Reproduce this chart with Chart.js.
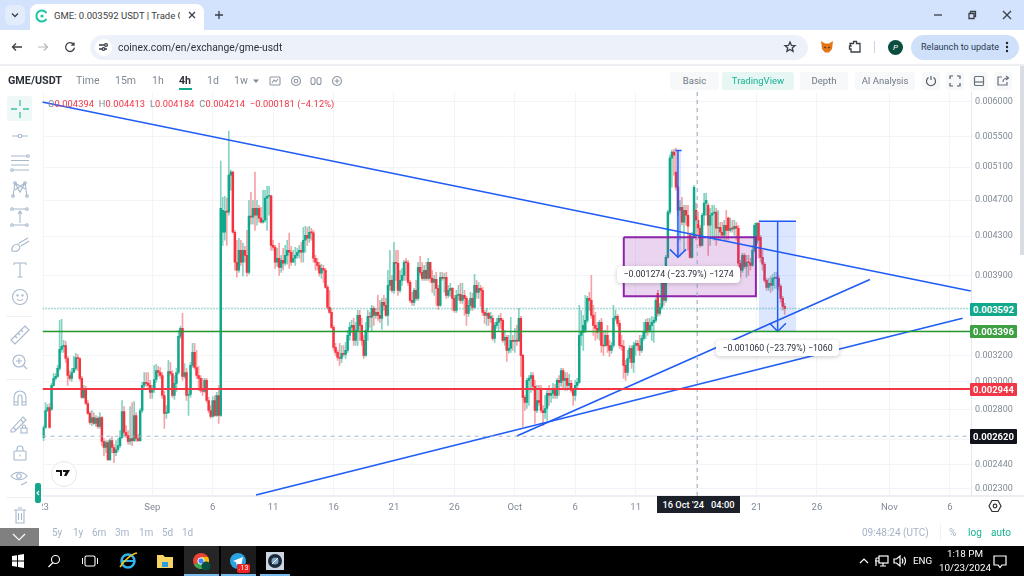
<!DOCTYPE html>
<html><head><meta charset="utf-8"><title>GME/USDT</title>
<script src="https://cdn.jsdelivr.net/npm/chart.js@4"></script>
<style>
html,body{margin:0;padding:0;background:#fff;width:1024px;height:576px;overflow:hidden;font-family:Roboto,sans-serif}
canvas{position:absolute;left:0;top:0}
.a{position:absolute;white-space:nowrap}
.h{top:73px;height:16px;line-height:16px;font-size:10.5px;color:#7f8994}
.btn{top:72px;height:18px;line-height:18px;font-size:9.5px;text-align:center;background:#f7f8fa;color:#6f7883;border-radius:3px}
.tag{left:970px;width:47px;text-align:center;color:#fff;font-size:9.5px;font-weight:700;border-radius:1px}
.lbl{background:#fff;border-radius:4px;box-shadow:0 1px 4px rgba(30,40,60,.25);text-align:center;font-size:8.75px;color:#2a2e39}
.rng{top:526px;font-size:10px;color:#a4b4c8;line-height:14px}
svg{position:absolute;overflow:visible}
.s{fill:none;stroke:#a7b8cd;stroke-width:1.1}
.w{fill:none;stroke:#fff;stroke-width:1.2}
.k{fill:none;stroke:#3a3f47;stroke-width:1.3}
</style></head><body>
<canvas id="c" width="1024" height="576"></canvas>

<!-- browser chrome -->
<div class="a" style="left:0;top:0;width:1024px;height:30px;background:#d3e3fd"></div>
<div class="a" style="left:0;top:30px;width:1024px;height:34px;background:#fff;border-radius:8px 8px 0 0"></div>
<div class="a" style="left:0;top:64px;width:1024px;height:2px;background:#eceef2"></div>
<div class="a" style="left:5px;top:5px;width:20px;height:20px;background:#e3ecfb;border-radius:6px"></div>
<svg style="left:15px;top:15px"><path d="M-3 -1.5L0 1.5L3 -1.5" class="k"/></svg>
<div class="a" style="left:30px;top:4px;width:174px;height:28px;background:#fff;border-radius:8px 8px 0 0"></div>
<svg style="left:42px;top:16px"><path d="M4.5 -3A5.5 5.5 0 1 0 4.5 3" fill="none" stroke="#18c5a5" stroke-width="2"/><circle r="1.6" fill="#18c5a5"/></svg>
<div class="a" style="left:54px;top:8px;width:126px;overflow:hidden;height:16px;line-height:16px;font-size:9.5px;color:#3c4043">GME: 0.003592 USDT | Trade GM</div>
<svg style="left:192px;top:15px"><path d="M-3 -3L3 3M3 -3L-3 3" class="k"/></svg>
<svg style="left:219px;top:15px"><path d="M-4 0H4M0 -4V4" class="k"/></svg>
<svg style="left:938px;top:15px"><path d="M-4 0H4" class="k"/></svg>
<svg style="left:972px;top:15px"><path d="M-3 -1.5H2V3.5H-3ZM-1.5 -1.5V-3.5H3.5V1.5H2" class="k"/></svg>
<svg style="left:1007px;top:15px"><path d="M-4 -4L4 4M4 -4L-4 4" class="k"/></svg>
<svg style="left:17px;top:47px"><path d="M5 0H-4M-1 -3.5L-4.5 0L-1 3.5" class="k"/></svg>
<svg style="left:43px;top:47px"><path d="M-5 0H4M1 -3.5L4.5 0L1 3.5" fill="none" stroke="#b4b7bc" stroke-width="1.2"/></svg>
<svg style="left:70px;top:47px"><path d="M3.6 -2.5A4.4 4.4 0 1 0 4.4 0.6M4 -4.5V-1.8H1.2" class="k"/></svg>
<div class="a" style="left:90px;top:35px;width:718px;height:25px;background:#edf2fa;border-radius:13px"></div>
<div class="a" style="left:95px;top:39px;width:17px;height:17px;background:#fff;border-radius:9px"></div>
<svg style="left:103px;top:47px"><path d="M-4 -2H1M2 2H4M-4 2H-1" class="k"/><circle cx="3" cy="-2" r="1.4" class="k"/><circle cx="0.5" cy="2" r="1.4" class="k"/></svg>
<div class="a" style="left:118px;top:39px;height:17px;line-height:17px;font-size:10.3px;color:#303338">coinex.com/en/exchange/gme-usdt</div>
<svg style="left:790px;top:47px"><path d="M0 -5L1.5 -1.6L5 -1.4L2.3 .9L3.1 4.4L0 2.5L-3.1 4.4L-2.3 .9L-5 -1.4L-1.5 -1.6Z" class="k"/></svg>
<svg style="left:827px;top:47px"><path d="M-6 -6L-2 -3.5H2L6 -6L5 2L2 5.5H-2L-5 2Z" fill="#e2761b"/><path d="M-3 0L-1 1M3 0L1 1" stroke="#5b3a1a" stroke-width="1.2"/></svg>
<svg style="left:855px;top:47px"><path d="M-5 -3.5H-1.5V-5.5H1.5V-3.5H5V5H-4V2H-5.5V-1H-4Z" class="k"/></svg>
<div class="a" style="left:874px;top:41px;width:1px;height:12px;background:#c6d6ec"></div>
<div class="a" style="left:888px;top:40px;width:15px;height:15px;line-height:15px;border-radius:8px;background:#0b4d3e;color:#fff;font-size:8px;text-align:center;font-style:italic">P</div>
<div class="a" style="left:911px;top:35px;width:108px;height:25px;background:#cfe0fb;border-radius:13px"></div>
<div class="a" style="left:921px;top:39px;height:17px;line-height:17px;font-size:9.1px;color:#2a3a52">Relaunch to update</div>
<svg style="left:1007px;top:47px"><circle cy="-4" r="1.2" fill="#222"/><circle r="1.2" fill="#222"/><circle cy="4" r="1.2" fill="#222"/></svg>

<!-- chart header -->
<div class="a h" style="left:8px;font-weight:700;color:#2c3038;font-size:10.8px">GME/USDT</div>
<div class="a h" style="left:76px">Time</div>
<div class="a h" style="left:115px">15m</div>
<div class="a h" style="left:152px">1h</div>
<div class="a h" style="left:179px;color:#2c3038;font-weight:700">4h</div>
<div class="a" style="left:179px;top:88px;width:13px;height:2px;background:#12a88c"></div>
<div class="a h" style="left:207px">1d</div>
<div class="a h" style="left:234px">1w</div>
<svg style="left:256px;top:81px"><path d="M-3 -1.5H3L0 2Z" fill="#7f8994"/></svg>
<svg style="left:275px;top:81px"><rect x="-5" y="-4" width="10" height="8" rx="1" class="s" style="stroke:#8f98a3"/><path d="M-3 2L-1 -1L1 .5L3 -2" class="s" style="stroke:#8f98a3"/></svg>
<svg style="left:296px;top:81px"><circle r="4.5" class="s" style="stroke:#8f98a3"/><circle r="1.8" class="s" style="stroke:#8f98a3"/></svg>
<svg style="left:316px;top:81px"><rect x="-5" y="-3.5" width="4" height="7" rx="2" class="s" style="stroke:#8f98a3"/><rect x="1" y="-3.5" width="4" height="7" rx="2" class="s" style="stroke:#8f98a3"/></svg>
<svg style="left:337px;top:81px"><circle r="4.5" class="s" style="stroke:#8f98a3"/><path d="M-2.5 0H2.5M0 -2.5V2.5" class="s" style="stroke:#8f98a3"/></svg>
<div class="a btn" style="left:670px;width:49px">Basic</div>
<div class="a btn" style="left:722px;width:72px;background:#e6f6f3;color:#17b294">TradingView</div>
<div class="a btn" style="left:800px;width:48px">Depth</div>
<div class="a btn" style="left:855px;width:60px">AI Analysis</div>
<div class="a btn" style="left:922px;width:18px"></div><div class="a btn" style="left:946px;width:18px"></div><div class="a btn" style="left:970px;width:18px"></div><div class="a btn" style="left:994px;width:18px"></div>
<svg style="left:931px;top:81px"><path d="M-2.5 -3.5A4.5 4.5 0 1 0 2.5 -3.5M0 -5V-1" fill="none" stroke="#555c66" stroke-width="1.2"/></svg>
<svg style="left:955px;top:81px"><path d="M-5 -2V-5H-2M2 -5H5V-2M5 2V5H2M-2 5H-5V2" fill="none" stroke="#555c66" stroke-width="1.2"/></svg>
<svg style="left:979px;top:81px"><rect x="-4.5" y="-4.5" width="9" height="9" rx="1" fill="none" stroke="#6a727c" stroke-width="1.2"/><path d="M-4.5 1H4.5" stroke="#6a727c" stroke-width="1.2"/></svg>
<svg style="left:1003px;top:81px"><path d="M-1 -4H-5V4H4V1M0 1C0 -2 2 -3 5 -3M3 -5L5.5 -3L3 -1" fill="none" stroke="#6a727c" stroke-width="1.2"/></svg>

<!-- legend -->
<div class="a" style="left:48px;top:97px;height:13px;line-height:13px;font-size:9.25px;color:#f23645;letter-spacing:.01em"><span style="color:#7f8994">O</span>0.004394 <span style="color:#7f8994">&nbsp;H</span>0.004413 <span style="color:#7f8994">&nbsp;L</span>0.004184 <span style="color:#7f8994">&nbsp;C</span>0.004214 &nbsp;−0.000181 (−4.12%)</div>

<!-- sidebar -->
<div class="a" style="left:0;top:92px;width:41.5px;height:436px;background:#fff"></div>
<div class="a" style="left:7px;top:96px;width:25px;height:25px;background:#eef8f6;border-radius:3px"></div>
<svg style="left:20px;top:109px"><path d="M-9 0H-3M3 0H9M0 -9V-3M0 3V9" fill="none" stroke="#3fbfa7" stroke-width="1.3"/></svg>
<svg style="left:20px;top:136px"><path d="M-8 0H-2M2 0H8" class="s"/><circle r="1.8" class="s"/></svg>
<svg style="left:20px;top:163px"><path d="M-9 -7H7M-9 -2.5H9M-9 2H9M-7 7H9" class="s"/><circle cx="8" cy="-7" r="1.3" class="s"/><circle cx="-8" cy="7" r="1.3" class="s"/></svg>
<svg style="left:20px;top:189px"><path d="M-7 7L-5 -6L0 3L5 -6L7 7M-5 -6L5 0M5 -6L-5 1" class="s"/><circle cx="-7" cy="7" r="1.3" class="s"/><circle cx="-5" cy="-6" r="1.3" class="s"/><circle cx="7" cy="7" r="1.3" class="s"/><circle cx="5" cy="-6" r="1.3" class="s"/></svg>
<svg style="left:20px;top:217px"><path d="M-7 -8H6M-7 8H6M0 6V-6M-2 -3L0 -6L2 -3" class="s"/><circle cx="7" cy="-8" r="1.3" class="s"/><circle cx="7" cy="8" r="1.3" class="s"/><circle cx="-8" cy="8" r="1.3" class="s"/><circle cx="-8" cy="-8" r="1.3" class="s"/></svg>
<svg style="left:20px;top:245px"><path d="M-8 6C-9 1 -5 -1 -2 -1L0 2C0 5 -3 7 -8 6ZM-1 -2L8 -7M1 1L9 -4" class="s"/></svg>
<svg style="left:20px;top:270px"><path d="M-6 -5V-7H6V-5M0 -7V7M-2.5 7H2.5" class="s"/></svg>
<svg style="left:20px;top:297px"><circle r="7.5" class="s"/><path d="M-3 2C-1.5 4 1.5 4 3 2" class="s"/><circle cx="-2.5" cy="-1.5" r=".6" class="s"/><circle cx="2.5" cy="-1.5" r=".6" class="s"/></svg>
<div class="a" style="left:6px;top:316px;width:27px;height:1px;background:#eef0f3"></div>
<svg style="left:20px;top:335px"><path d="M-9 5L5 -9L9 -5L-5 9ZM-5 1L-3 3M-2 -2L0 0M1 -5L3 -3" class="s"/></svg>
<svg style="left:19px;top:361px"><circle r="6" class="s"/><path d="M-3 0H3M0 -3V3M4.5 4.5L8 8" class="s"/></svg>
<div class="a" style="left:6px;top:379px;width:27px;height:1px;background:#eef0f3"></div>
<svg style="left:20px;top:398px"><path d="M-6 7V-1A6 6 0 0 1 6 -1V7H2V-1A2 2 0 0 0 -2 -1V7ZM-6 4H-2M2 4H6" class="s"/></svg>
<svg style="left:18px;top:424px"><path d="M-7 6L5 -7L8 -4L-4 8L-7 8ZM-5 3L-2 6M3 -4L6 -1" class="s"/><rect x="3" y="4" width="6" height="5" class="s"/><path d="M4.5 4V2.5A1.5 1.5 0 0 1 7.5 2.5V4" class="s"/></svg>
<svg style="left:20px;top:453px"><rect x="-6" y="-2" width="12" height="9" rx="1" class="s"/><path d="M-3 -2V-4A3 3 0 0 1 3 -4V-2M0 1.5V3.5" class="s"/></svg>
<svg style="left:19px;top:476px"><path d="M-8 0C-4 -5 4 -5 8 0C4 5 -4 5 -8 0Z" class="s"/><circle r="2.3" class="s"/><path d="M2 9L8 6" class="s"/></svg>
<div class="a" style="left:6px;top:497px;width:27px;height:1px;background:#eef0f3"></div>
<svg style="left:20px;top:516px"><path d="M-6 -6H6M-4 -6V7H4V-6M-2 -8H2M-1.5 -3V4M1.5 -3V4" class="s"/></svg>
<div class="a" style="left:0;top:528px;width:39px;height:18px;background:#808080"></div>
<svg style="left:19px;top:537px"><path d="M-6 -3L0 3L6 -3" class="w"/></svg>
<div class="a" style="left:35px;top:483px;width:6px;height:20px;background:#12a88c;border-radius:2px"></div>
<svg style="left:38px;top:493px"><path d="M1 -2L-1 0L1 2" class="w"/></svg>
<div class="a" style="left:51px;top:461px;width:24px;height:24px;border:1px solid #e3e7ee;border-radius:13px;background:#fff"></div>
<svg style="left:63px;top:473px"><path d="M-7 -3H-1V3H-3V-1H-7ZM0 -3H2.5A1 1 0 1 1 2.5 -1H0ZM3.5 -3H7L3.5 3H1Z" fill="#111"/></svg>

<!-- axis extras -->
<div class="a" style="left:971px;top:495px;width:53px;height:2px;background:#eceef3"></div>
<div class="a" style="left:1020px;top:66px;width:4px;height:189px;background:#d9dce1"></div>
<svg style="left:995px;top:506px"><path d="M-3 -5.5H3L6 0L3 5.5H-3L-6 0Z" fill="none" stroke="#333" stroke-width="1.2"/><circle r="1.8" fill="none" stroke="#333" stroke-width="1.2"/></svg>
<div class="a" style="left:657px;top:496px;width:83px;height:17px;line-height:17px;background:#1c2029;color:#fff;text-align:center;font-size:9.3px;font-weight:500">16 Oct '24 &nbsp;&nbsp;04:00</div>

<!-- price tags -->
<div class="a tag" style="top:303px;height:13px;line-height:13px;background:#12a88c">0.003592</div>
<div class="a tag" style="top:325px;height:13px;line-height:13px;background:#3f9f43">0.003396</div>
<div class="a tag" style="top:383px;height:13px;line-height:13px;background:#f23645">0.002944</div>
<div class="a tag" style="top:429px;height:15px;line-height:15px;background:#10131a">0.002620</div>

<!-- measure labels -->
<div class="a lbl" style="left:617px;top:266px;width:123px;height:17px;line-height:17px">−0.001274 (−23.79%) −1274</div>
<div class="a lbl" style="left:716px;top:340px;width:123px;height:16px;line-height:16px">−0.001060 (−23.79%) −1060</div>

<!-- footer -->
<div class="a rng" style="left:52px">5y</div><div class="a rng" style="left:73px">1y</div><div class="a rng" style="left:92px">6m</div><div class="a rng" style="left:115px">3m</div><div class="a rng" style="left:139px">1m</div><div class="a rng" style="left:162px">5d</div><div class="a rng" style="left:182px">1d</div>
<div class="a rng" style="left:862px">09:48:24 (UTC)</div>
<div class="a" style="left:940px;top:524px;width:1px;height:16px;background:#eef0f3"></div>
<div class="a rng" style="left:949px">%</div>
<div class="a rng" style="left:968px;color:#17b294">log</div>
<div class="a rng" style="left:991px;color:#17b294">auto</div>

<!-- taskbar -->
<div class="a" style="left:0;top:546px;width:1024px;height:30px;background:#000"></div>
<div class="a" style="left:184px;top:546px;width:35px;height:30px;background:#262626"></div>
<div class="a" style="left:221px;top:546px;width:35px;height:30px;background:#1c1c1c"></div>
<div class="a" style="left:184px;top:574px;width:35px;height:2px;background:#76b9ed"></div>
<div class="a" style="left:221px;top:574px;width:35px;height:2px;background:#76b9ed"></div>
<div class="a" style="left:260px;top:574px;width:30px;height:2px;background:#76b9ed"></div>
<svg style="left:18px;top:561px"><path d="M-6 -5L-1 -5.8V-.5H-6ZM0 -6L6 -7V-.5H0ZM-6 .5H-1V5.8L-6 5ZM0 .5H6V7L0 6Z" fill="#fff"/></svg>
<svg style="left:54px;top:561px"><circle cx="1.5" cy="-1.5" r="4" fill="none" stroke="#fff" stroke-width="1.1"/><path d="M-1 1.5L-5.5 6" stroke="#fff" stroke-width="1.2"/></svg>
<svg style="left:90px;top:561px"><rect x="-5" y="-5" width="10" height="10" rx="1.5" fill="none" stroke="#fff" stroke-width="1.1"/><path d="M-7.5 -3V3M7.5 -3V3" stroke="#fff"/></svg>
<svg style="left:128px;top:561px"><circle r="6.5" fill="none" stroke="#2fb4ee" stroke-width="2.5"/><path d="M-6 0H6" stroke="#2fb4ee" stroke-width="2"/><path d="M-8 6C-4 0 3 -7 9 -8" fill="none" stroke="#f5c518" stroke-width="1.5"/></svg>
<svg style="left:165px;top:561px"><path d="M-8 -6H-2L0 -4H8V7H-8Z" fill="#f6d565"/><rect x="-3" y="1" width="6" height="5" fill="#2f9ae0"/></svg>
<svg style="left:201px;top:561px"><circle r="8" fill="#ea4335"/><path d="M0 0L-7 4A8 8 0 0 0 4 7Z" fill="#34a853"/><path d="M0 0L4 7A8 8 0 0 0 7 -4H0Z" fill="#fbbc05"/><circle r="3.2" fill="#4285f4" stroke="#fff"/><circle cx="5" cy="5" r="4.5" fill="#0b4d3e"/></svg>
<svg style="left:238px;top:561px"><circle r="8" fill="#2aa3e0"/><path d="M-5 0L5 -4L3 5L0 2.5L-1.5 4L-2 1Z" fill="#fff"/></svg>
<div class="a" style="left:237px;top:564px;width:13px;height:9px;line-height:9px;background:#e22;color:#fff;font-size:7px;text-align:center;border-radius:2px">.13</div>
<div class="a" style="left:266px;top:552px;width:18px;height:18px;background:#ccd6e2"></div>
<svg style="left:275px;top:561px"><circle r="7" fill="#1c2a3c"/><circle r="3.5" fill="#7fa7cc"/><path d="M-3 3L3 -3" stroke="#fff"/></svg>
<svg style="left:864px;top:561px"><path d="M-4 2L0 -2L4 2" class="w"/></svg>
<svg style="left:882px;top:561px"><rect x="-3" y="-5" width="9" height="7" class="w"/><path d="M-6 -3H-3M-6 -3V5M-7 0H-3M1 2V5M-2 5H4" class="w"/></svg>
<svg style="left:899px;top:561px"><path d="M-5 -2H-2.5L1 -5V5L-2.5 2H-5ZM3 -2.5C4 -1 4 1 3 2.5M5 -4C7 -2 7 2 5 4" class="w"/></svg>
<div class="a" style="left:913px;top:553px;height:16px;line-height:16px;font-size:9.8px;color:#fff">ENG</div>
<div class="a" style="left:935px;top:547px;width:60px;text-align:center;height:13px;line-height:13px;font-size:9.8px;color:#fff">1:18 PM</div>
<div class="a" style="left:935px;top:561px;width:60px;text-align:center;height:13px;line-height:13px;font-size:9.8px;color:#fff">10/23/2024</div>
<svg style="left:1000px;top:561px"><path d="M-6 -5H6V4H2L0 6.5L-2 4H-6Z" class="w"/></svg>

<script>
// ---------- chart values ----------
// prices in millionths of a USDT, one 4h candle per slot
const opens = [
2611,2677,2792,2813,2799,2971,3023,3038,3099,3248,3272,3280,3176,3045,3023,3068,3099,3184,3176,3023,
2884,2949,2841,2772,2711,2744,2704,2738,2684,2744,2586,2548,2579,2473,2592,2548,2516,2535,2560,2611,
2785,2644,2624,2586,2605,2592,2758,2605,2592,2792,2971,2993,2986,2971,2920,2942,3015,3083,3068,3045,
2898,2772,2778,3075,3060,2898,2986,3068,3355,3422,3038,3068,2898,2905,3122,3224,3106,3045,3023,2934,
2927,3008,2862,2792,2751,2862,2758,2898,2758,4341,4341,4573,4562,5000,5037,4341,4030,3951,4151,4030,
4151,4100,3931,4517,4506,4607,4528,4607,4495,4450,4472,4723,4746,4752,4203,4183,4030,4070,3980,4050,
4020,4100,4151,4131,4030,4070,4100,4131,4151,4131,4256,4309,4277,4341,4335,4070,4030,4000,3922,3970,
3951,3787,3604,3560,3430,3264,3224,3184,3176,3216,3208,3240,3363,3430,3447,3321,3405,3534,3447,3321,
3200,3405,3525,3517,3595,3534,3560,3534,3508,3649,3622,3534,3806,3854,3759,4030,4020,3759,3854,3902,
4030,4025,3835,3667,3649,3759,3686,3980,3931,3873,3951,3873,4030,3873,3835,3864,3778,3622,3883,3873,
3883,3713,3759,3778,3686,3578,3713,3722,3667,3713,3686,3551,3622,3686,3604,3806,3741,3778,3759,3560,
3534,3551,3508,3508,3338,3447,3473,3508,3490,3321,3347,3240,3256,3321,3313,3321,3315,3508,3200,2884,
2848,3008,3023,3045,2964,2792,2862,2949,2792,2778,2806,2913,2898,2913,2949,2898,3008,2993,3083,3008,
3023,2971,2986,2934,2898,2971,2993,3363,3388,3405,3490,3686,3667,3534,3447,3422,3405,3473,3280,3276,
3363,3280,3240,3280,3508,3525,3465,3280,3272,3122,3068,3176,3256,3145,3280,3297,3280,3240,3338,3388,
3473,3405,3447,3473,3490,3732,3551,3604,3845,3667,4080,4562,5215,5294,5037,4853,4584,4618,4450,4584,
4528,4309,4080,4288,4584,4472,4384,4203,4528,4665,4641,4417,4528,4550,4562,4384,4395,4341,4309,4417,
4495,4362,4384,4378,4406,4384,4020,3951,4100,3990,4030,4025,4000,4151,4225,4439,4288,4080,4010,3854,
3787,3825,3806,3873,3883,3873,3797,3686,3613];
const closes = [
2677,2792,2813,2677,2971,3023,3038,3099,3248,3272,3280,3176,3045,3023,3068,3099,3184,3176,3023,2884,
2949,2841,2772,2711,2744,2704,2738,2684,2744,2586,2548,2579,2473,2592,2548,2516,2535,2560,2611,2785,
2644,2624,2586,2605,2592,2758,2605,2592,2792,2971,2993,2986,2971,2920,2942,3015,3083,3068,3045,2898,
2772,2778,3075,3060,2898,2986,3068,3355,3422,3038,3068,2898,2905,3122,3224,3106,3045,3023,2934,2927,
3008,2862,2792,2751,2862,2758,2898,2758,4607,4584,4573,4562,5000,5037,4341,4030,3951,4151,4030,4151,
4100,3931,4517,4506,4607,4528,4607,4495,4450,4472,4723,4746,4752,4203,4183,4030,4070,3980,4050,4020,
4100,4151,4131,4030,4070,4100,4131,4151,4131,4256,4309,4277,4341,4335,4070,4030,4000,3922,3970,3951,
3787,3604,3560,3430,3264,3224,3184,3176,3216,3208,3240,3363,3430,3447,3321,3405,3534,3447,3321,3200,
3405,3525,3517,3595,3534,3560,3534,3508,3649,3622,3534,3806,3854,3759,4030,4020,3759,3854,3902,4030,
4025,3835,3667,3649,3759,3686,3980,3931,3873,3951,3873,4030,3873,3835,3864,3778,3622,3883,3873,3883,
3713,3759,3778,3686,3578,3713,3722,3667,3713,3686,3551,3622,3686,3604,3806,3741,3778,3759,3560,3534,
3551,3508,3525,3338,3447,3473,3508,3490,3321,3347,3240,3256,3321,3313,3321,3315,3508,3200,2884,2848,
3008,3023,3045,2964,2792,2862,2848,2792,2778,2806,2913,2898,2913,2949,2898,3008,2993,3083,3008,3023,
2971,2986,2934,2898,2971,2993,3363,3388,3447,3490,3686,3667,3534,3447,3422,3388,3473,3280,3276,3363,
3280,3240,3280,3508,3525,3465,3280,3272,3122,3068,3176,3256,3145,3280,3297,3280,3240,3338,3388,3473,
3405,3447,3473,3490,3667,3551,3604,3845,3667,4080,4562,5215,5294,5254,4853,4584,4618,4450,4584,4528,
4406,4080,4288,4853,4472,4384,4203,4528,4665,4699,4417,4528,4550,4562,4384,4395,4341,4309,4417,4362,
4362,4384,4378,4406,4384,4020,3951,4100,3990,4030,4025,4000,4151,4417,4439,4256,4080,4010,3854,3787,
3825,3806,3873,3883,3873,3797,3686,3613,3592];
const highs = [
2690,2848,2834,2841,2986,3060,3060,3122,3490,3499,3321,3313,3192,3083,3099,3192,3216,3208,3184,3038,
2971,2964,2862,2785,2792,2778,2758,2751,2778,2751,2605,2592,2592,2605,2618,2567,2592,2605,2657,2862,
2820,2690,2657,2820,2848,2855,2778,2631,2806,2993,3068,3068,3068,3008,2971,3122,3130,3114,3106,3068,
2927,2827,3161,3145,3083,3045,3099,3405,3439,3551,3137,3099,2934,3145,3297,3297,3240,3114,3045,3023,
3023,3023,2884,2827,2891,2898,2920,2971,5177,4734,4746,4723,5577,5062,5050,4362,4256,4277,4256,4225,
4193,4362,4699,4793,4699,5037,4699,4641,4618,4817,4817,4865,4865,4758,4256,4203,4172,4225,4100,4172,
4203,4256,4331,4193,4151,4183,4172,4203,4235,4395,4406,4395,4406,4384,4362,4100,4070,4030,4010,4000,
3970,3806,3759,3595,3447,3297,3240,3297,3280,3280,3305,3405,3473,3490,3508,3473,3578,3578,3508,3363,
3473,3578,3560,3622,3613,3595,3713,3667,3686,3713,3686,3951,4151,3902,4235,4151,4151,3951,3970,4050,
4070,4050,3854,3741,3778,3854,4030,4090,4030,4000,4030,4070,4030,3951,3902,3931,3806,3931,3931,3922,
3931,3806,3825,3787,3713,3759,3806,3825,3825,3759,3704,3667,3741,3732,3912,3854,3835,3806,3787,3578,
3595,3560,3560,3534,3473,3508,3534,3551,3508,3405,3363,3363,3517,3363,3422,3447,3595,3525,3208,2898,
3023,3045,3068,3068,3008,2971,2971,2971,2827,2898,2949,2971,2949,2986,2979,3023,3045,3099,3099,3068,
3068,3053,3008,2949,3008,3023,3622,3578,3534,3713,3704,3741,3902,3622,3560,3473,3490,3508,3405,3405,
3447,3321,3305,3622,3578,3543,3490,3363,3321,3161,3240,3280,3280,3305,3321,3321,3363,3363,3473,3499,
3508,3508,3525,3517,3686,3759,3640,3864,3873,4100,4584,5254,5320,5333,5346,4877,4699,4734,4641,4641,
4641,4331,4341,4877,4665,4562,4417,4550,4781,4781,4665,4607,4641,4641,4607,4584,4450,4450,4472,4584,
4506,4495,4472,4472,4450,4417,4050,4120,4120,4100,4100,4070,4203,4439,4450,4450,4309,4151,4030,3873,
3873,3893,3912,3931,3931,3902,3816,3704,3640];
const lows = [
2592,2671,2785,2671,2792,2964,3008,3030,3083,3224,3224,3145,2971,3008,3000,3068,3083,3083,3008,2877,
2877,2834,2765,2697,2690,2697,2684,2671,2671,2560,2497,2516,2466,2466,2516,2454,2497,2522,2548,2605,
2624,2611,2567,2567,2560,2586,2586,2586,2586,2778,2949,2964,2949,2877,2877,2920,2993,3038,3023,2877,
2671,2738,2772,3045,2884,2870,2927,3053,3338,3008,3023,2862,2758,2884,3106,3091,3023,2934,2920,2898,
2920,2848,2778,2738,2744,2751,2751,2704,2751,4203,4256,4203,4528,4817,4331,3951,3883,3931,4000,3893,
4030,3893,3912,4428,4428,4362,4417,4450,4439,4439,4450,4362,4528,4151,4151,3970,3990,3902,3931,3951,
4000,4010,3970,4000,4030,4000,4070,4070,4030,4030,4131,4203,4235,4256,4030,3951,3951,3893,3873,3835,
3778,3586,3551,3422,3240,3200,3161,3122,3145,3192,3176,3224,3321,3388,3280,3280,3280,3321,3280,3176,
3192,3321,3430,3405,3447,3508,3490,3473,3413,3578,3525,3447,3759,3741,3732,3854,3713,3741,3806,3854,
3854,3806,3649,3622,3622,3667,3667,3902,3854,3854,3854,3854,3835,3741,3713,3622,3586,3613,3854,3741,
3686,3695,3704,3578,3560,3560,3667,3640,3640,3534,3447,3525,3578,3578,3595,3686,3686,3613,3534,3465,
3447,3447,3473,3321,3305,3422,3405,3422,3305,3280,3153,3216,3224,3240,3224,3280,3315,3038,2684,2792,
2806,2827,2920,2934,2704,2778,2827,2778,2690,2738,2724,2827,2848,2877,2877,2877,2898,2964,2949,2934,
2934,2949,2920,2827,2862,2949,2986,3280,3240,3388,3473,3578,3508,3363,3321,3338,3321,3224,3200,3276,
3224,3192,3216,3264,3490,3439,3256,3240,3023,3008,3045,3145,3099,3068,3200,3240,3200,3224,3321,3338,
3363,3388,3321,3305,3473,3525,3534,3586,3622,3649,4070,4540,4853,5000,4817,4528,4256,4417,4151,4417,
4151,4070,4070,4277,4256,4309,4183,4193,4417,4528,4100,4203,4277,4256,4203,4256,4256,4277,4256,4256,
4256,4341,4341,4309,4256,3951,3883,3931,3970,3883,3902,3951,3990,4131,4203,4070,4030,3951,3835,3759,
3759,3741,3759,3778,3778,3759,3649,3578,3543];

const yTicks = [6000,5500,5100,4700,4300,3900,3600,3400,3200,3000,2800,2600,2440,2300];
const xTickSlots  = [0,54,84,114,144,174,204,234,264,294,324,354,384,420,450];
const xTickLabels = ["23","Sep","6","11","16","21","26","Oct","6","11","16","21","26","Nov","6"];

// drawn levels (price) and tool end points [slot, price]
const lastPrice = 3592, greenLevel = 3396, redLevel = 2944, dashedLevel = 2620;
const crosshairSlot = 324.6;
const trendA = [[-0.7,5993],[460.4,3754]];
const trendB = [[105.5,2265],[456.3,3508]];
const trendC = [[235,2621],[410.3,3862]];
const purpleBox = [[288.1,4288],[353.7,3704]];
const measure1 = {box:[[314.2,5314],[316.6,4080]], top:[[313.8,5314],[316.8,5314]], shaft:[[315,5314],[315,4080]], head:[[311,4161],[315,4080],[319,4161]]};
const measure2 = {box:[[355.2,4461],[373.6,3396]], top:[[355.2,4461],[373.6,4461]], shaft:[[364.5,4461],[364.5,3396]], head:[[360.6,3465],[364.5,3396],[368.6,3465]]};

// ---------- chart ----------
const UP='#10a88c', DOWN='#f7323f', UPW='#86d2c2', DOWNW='#f6a3a8', BLUE='#1f5bf6';
const pts = a => a.map(p=>({x:p[0],y:p[1]}));
const rect = b => pts([[b[0][0],b[0][1]],[b[1][0],b[0][1]],[b[1][0],b[1][1]],[b[0][0],b[1][1]],[b[0][0],b[0][1]]]);
const XMIN=-0.5, XMAX=460.5, YMIN=2259.6, YMAX=6143;
const line = (data,color,width,extra) => Object.assign({type:'line',data:pts(data),borderColor:color,borderWidth:width,pointRadius:0,fill:false,tension:0,order:1,parsing:{xAxisKey:'x',yAxisKey:'y'}},extra||{});
const level = (v,color,width,dash) => line([[XMIN,v],[XMAX,v]],color,width,{borderDash:dash||[]});
const box = (b,fill,border,w) => ({type:'line',data:rect(b),borderColor:border,borderWidth:w,pointRadius:0,fill:'shape',backgroundColor:fill,tension:0,order:3});

const wickData = closes.map((c,i)=>({x:i,y:[lows[i],highs[i]]}));
const bodyData = closes.map((c,i)=>({x:i,y:[opens[i],c]}));
const isUp = closes.map((c,i)=>c>=opens[i]);

new Chart(document.getElementById('c'),{
  type:'bar',
  data:{datasets:[
    {label:'wick',data:wickData,backgroundColor:isUp.map(u=>u?UPW:DOWNW),barThickness:1,grouped:false,order:6,minBarLength:1},
    {label:'body',data:bodyData,backgroundColor:isUp.map(u=>u?UP:DOWN),barThickness:1.8,grouped:false,order:5,minBarLength:1},
    box(purpleBox,'rgba(156,39,176,0.2)','#8e24aa',2),
    box(measure1.box,'rgba(41,98,255,0.15)','rgba(0,0,0,0)',0),
    box(measure2.box,'rgba(41,98,255,0.16)','rgba(0,0,0,0)',0),
    level(lastPrice,'#12a88c',1,[1,2]),
    level(greenLevel,'#269a2f',1.5),
    level(redLevel,'#f23645',2),
    level(dashedLevel,'#a3b7cf',1,[4,4]),
    line([[crosshairSlot,YMAX],[crosshairSlot,YMIN]],'#a8b6c7',1.2,{borderDash:[4,4]}),
    line(trendA,BLUE,1.6),line(trendB,BLUE,1.6),line(trendC,BLUE,1.6),
    line(measure1.top,BLUE,1.5),line(measure1.shaft,BLUE,1.5),line(measure1.head,BLUE,1.5),
    line(measure2.top,BLUE,1.5),line(measure2.shaft,BLUE,1.5),line(measure2.head,BLUE,1.5)
  ]},
  options:{
    responsive:false,animation:false,devicePixelRatio:1,
    layout:{padding:{left:42.5,right:0,top:92,bottom:58}},
    plugins:{legend:{display:false},tooltip:{enabled:false}},
    scales:{
      x:{type:'linear',position:'bottom',min:XMIN,max:XMAX,offset:false,
        grid:{offset:false,color:'#f3f4f7',lineWidth:1,drawTicks:false},
        border:{color:'#eceef3',width:2},
        afterBuildTicks:s=>{s.ticks=xTickSlots.map(v=>({value:v}));},
        afterFit:s=>{s.height=22;},
        ticks:{autoSkip:false,maxRotation:0,padding:6,color:'#808a96',font:{family:'Roboto',size:9.5},
          callback:v=>xTickLabels[xTickSlots.indexOf(v)]}},
      y:{type:'logarithmic',position:'right',min:YMIN,max:YMAX,
        grid:{color:'#f3f4f7',lineWidth:1,drawTicks:false},
        border:{color:'#e6e8ed',width:1},
        afterBuildTicks:s=>{s.ticks=yTicks.map(v=>({value:v}));},
        afterFit:s=>{s.width=53;},
        ticks:{autoSkip:false,padding:4,color:'#808a96',font:{family:'Roboto',size:9},
          callback:v=>(v/1e6).toFixed(6)}}
    }
  }
});
</script>
</body></html>
